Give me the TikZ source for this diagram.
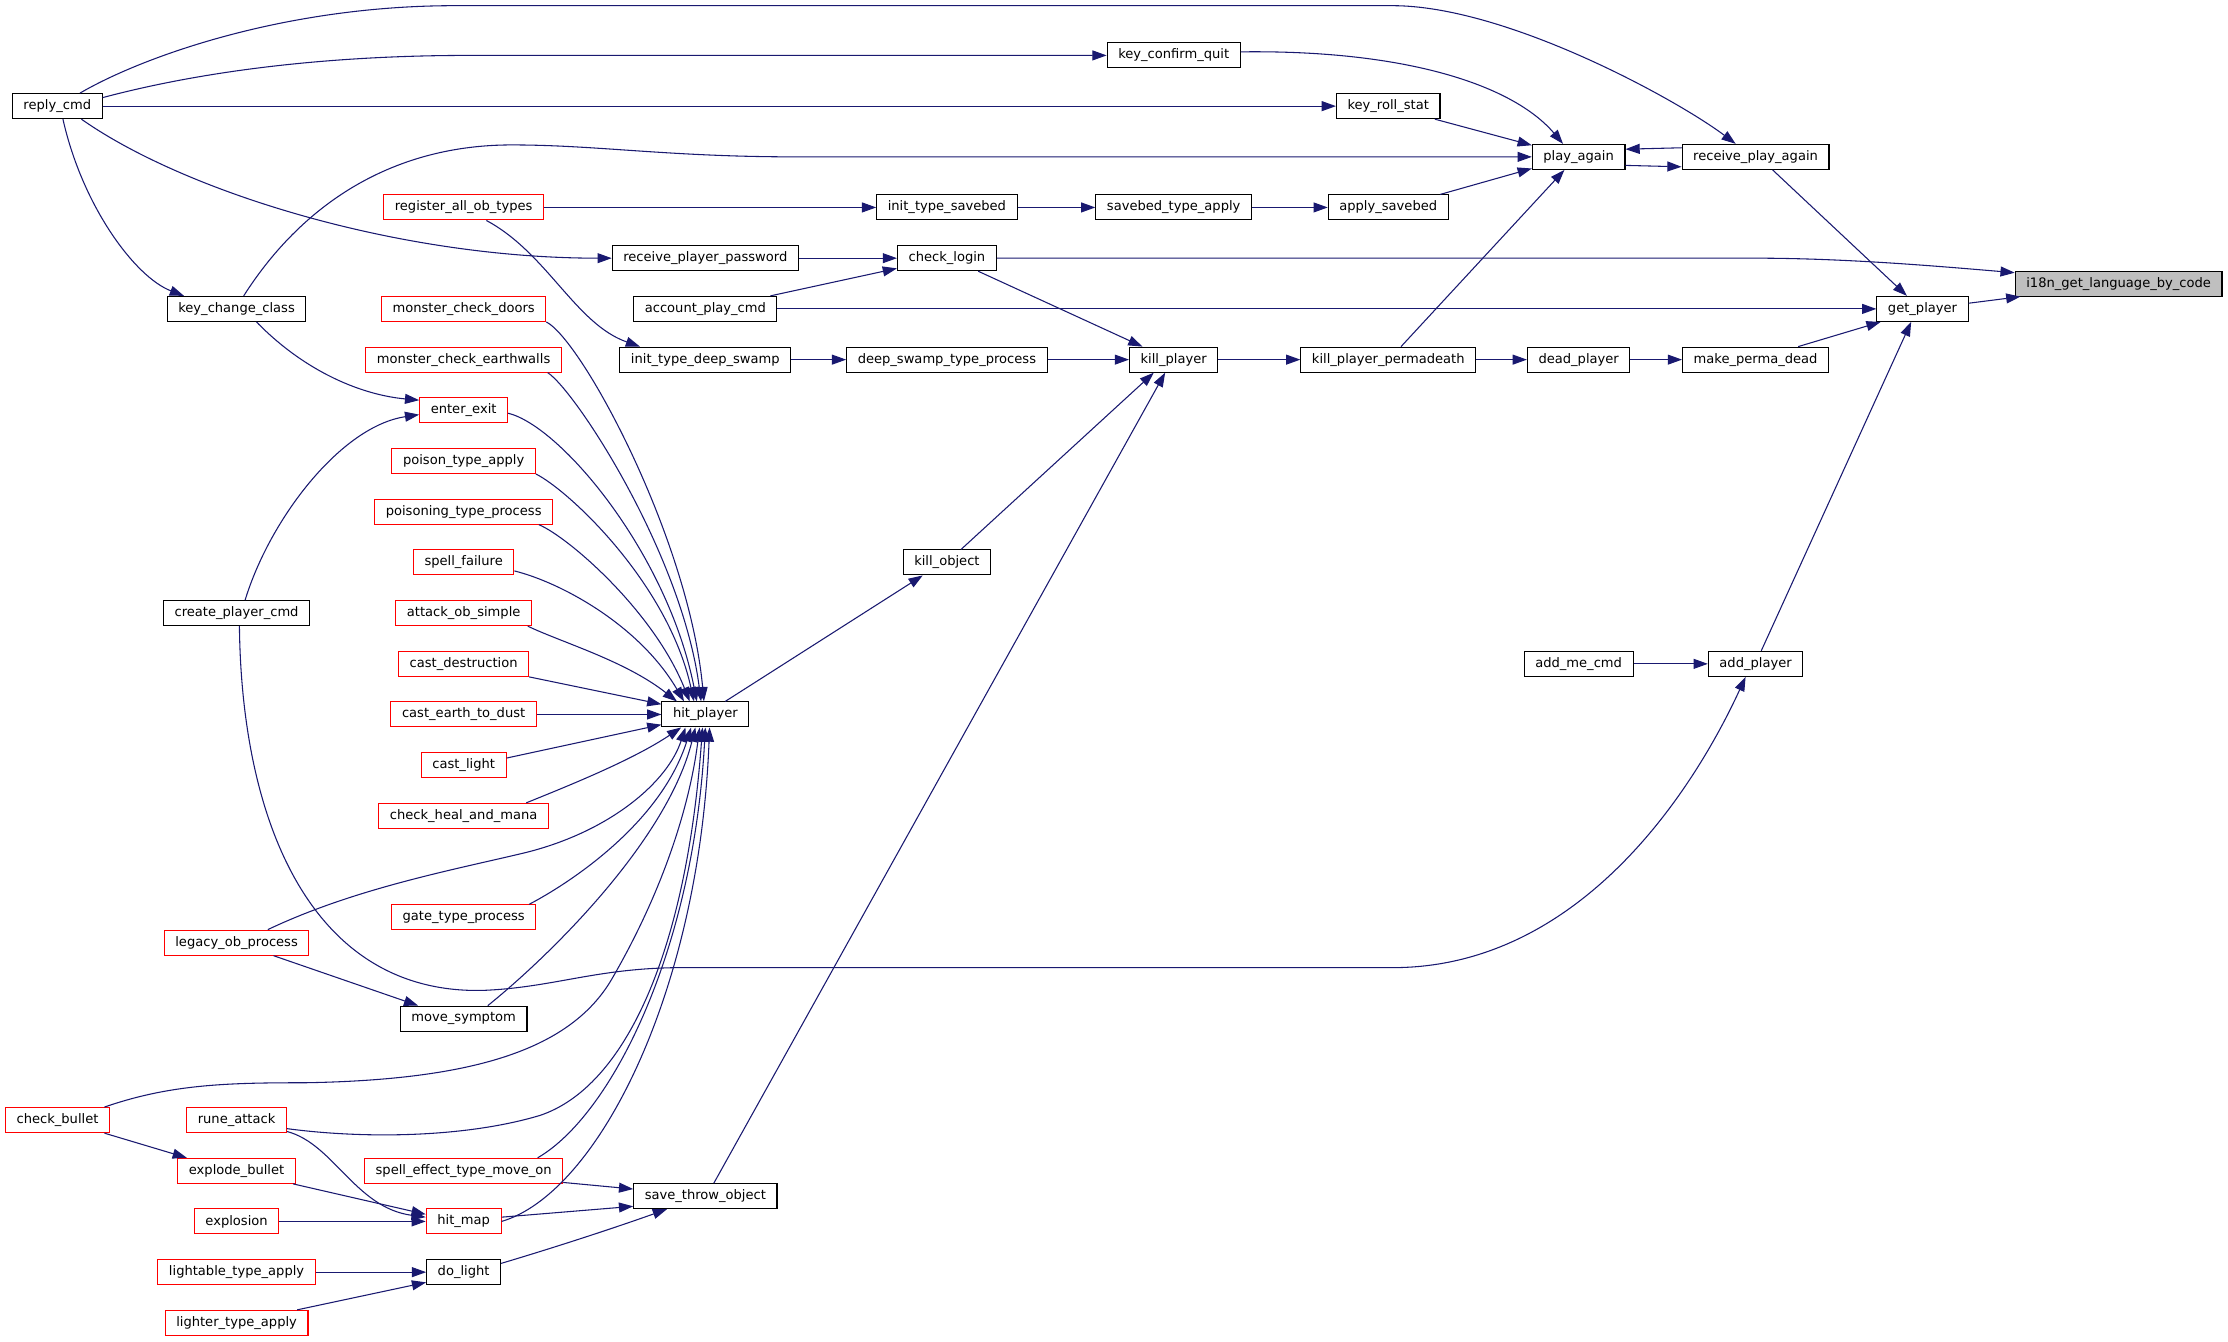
\documentclass[tikz,border=0pt]{standalone}
\usepackage{fontspec}
\setmainfont{DejaVu Sans}
\usepackage{xcolor}
\definecolor{edgeblue}{RGB}{25,25,112}
\definecolor{rootgrey}{RGB}{191,191,191}
\usepackage{tikz}
\usetikzlibrary{arrows.meta}
\tikzset{
    >={Triangle[length=10pt,width=7pt]},
    fn/.style={draw=black, rectangle, line width=0.75pt, fill=white, minimum height=17.6pt,
        inner xsep=7.8pt, inner ysep=0pt, font=\fontsize{9.2}{11}\selectfont},
    fn-red/.style={fn, draw=red},
    fn-root/.style={fn, fill=rootgrey},
    call/.style={draw=edgeblue, line width=0.75pt}
}
\begin{document}
\begin{tikzpicture}[x=1pt, y=-1pt]
      \path[use as bounding box, fill=white] (0,0) rectangle (1568,943.8);

      \node[fn] (reply-cmd) at (40.3,74.7) {reply\_cmd};
      \node[fn] (key-confirm-quit) at (826,39) {key\_confirm\_quit};
      \node[fn] (key-roll-stat) at (977,74.7) {key\_roll\_stat};
      \node[fn] (play-again) at (1111,110.4) {play\_again};
      \node[fn] (receive-play-again) at (1235.5,110.4) {receive\_play\_again};
      \node[fn-red] (register-all-ob-types) at (326.3,146) {register\_all\_ob\_types};
      \node[fn] (init-type-savebed) at (666.4,146) {init\_type\_savebed};
      \node[fn] (savebed-type-apply) at (826,146) {savebed\_type\_apply};
      \node[fn] (apply-savebed) at (977,146) {apply\_savebed};
      \node[fn] (receive-player-password) at (496.4,181.7) {receive\_player\_password};
      \node[fn] (check-login) at (666.4,181.7) {check\_login};
      \node[fn-root] (i18n) at (1491,199.6) {i18n\_get\_language\_by\_code};
      \node[fn] (key-change-class) at (166.5,217.4) {key\_change\_class};
      \node[fn-red] (monster-check-doors) at (326.3,217.4) {monster\_check\_doors};
      \node[fn] (account-play-cmd) at (496.4,217.4) {account\_play\_cmd};
      \node[fn] (get-player) at (1353,217.4) {get\_player};
      \node[fn-red] (monster-check-earthwalls) at (326.3,253.1) {monster\_check\_earthwalls};
      \node[fn] (init-type-deep-swamp) at (496.4,253.1) {init\_type\_deep\_swamp};
      \node[fn] (deep-swamp-type-process) at (666.4,253.1) {deep\_swamp\_type\_process};
      \node[fn] (kill-player) at (826,253.1) {kill\_player};
      \node[fn] (kill-player-permadeath) at (977,253.1) {kill\_player\_permadeath};
      \node[fn] (dead-player) at (1111,253.1) {dead\_player};
      \node[fn] (make-perma-dead) at (1235.5,253.1) {make\_perma\_dead};
      \node[fn-red] (enter-exit) at (326.3,288.8) {enter\_exit};
      \node[fn-red] (poison-type-apply) at (326.3,324.4) {poison\_type\_apply};
      \node[fn-red] (poisoning-type-process) at (326.3,360.1) {poisoning\_type\_process};
      \node[fn-red] (spell-failure) at (326.3,395.8) {spell\_failure};
      \node[fn] (kill-object) at (666.4,395.8) {kill\_object};
      \node[fn] (create-player-cmd) at (166.5,431.5) {create\_player\_cmd};
      \node[fn-red] (attack-ob-simple) at (326.3,431.5) {attack\_ob\_simple};
      \node[fn-red] (cast-destruction) at (326.3,467.2) {cast\_destruction};
      \node[fn] (add-me-cmd) at (1111,467.2) {add\_me\_cmd};
      \node[fn] (add-player) at (1235.5,467.2) {add\_player};
      \node[fn-red] (cast-earth-to-dust) at (326.3,502.8) {cast\_earth\_to\_dust};
      \node[fn] (hit-player) at (496.4,502.8) {hit\_player};
      \node[fn-red] (cast-light) at (326.3,538.5) {cast\_light};
      \node[fn-red] (check-heal-and-mana) at (326.3,574.2) {check\_heal\_and\_mana};
      \node[fn-red] (gate-type-process) at (326.3,645.6) {gate\_type\_process};
      \node[fn-red] (legacy-ob-process) at (166.5,663.4) {legacy\_ob\_process};
      \node[fn] (move-symptom) at (326.3,716.9) {move\_symptom};
      \node[fn-red] (check-bullet) at (40.5,788.3) {check\_bullet};
      \node[fn-red] (rune-attack) at (166.5,788.3) {rune\_attack};
      \node[fn-red] (explode-bullet) at (166.5,824) {explode\_bullet};
      \node[fn-red] (spell-effect-type-move-on) at (326.3,824) {spell\_effect\_type\_move\_on};
      \node[fn] (save-throw-object) at (496.4,841.8) {save\_throw\_object};
      \node[fn-red] (explosion) at (166.5,859.6) {explosion};
      \node[fn-red] (hit-map) at (326.3,859.6) {hit\_map};
      \node[fn-red] (lightable-type-apply) at (166.5,895.3) {lightable\_type\_apply};
      \node[fn] (do-light) at (326.3,895.3) {do\_light};
      \node[fn-red] (lighter-type-apply) at (166.5,931) {lighter\_type\_apply};

      \draw[call, ->] ([xshift=16pt]reply-cmd.north) .. controls (100,40) and (200,4) .. (320,4)
          -- (980,4) .. controls (1060,4) and (1180,70) .. ([xshift=-14pt]receive-play-again.north);
      \draw[call, ->] ([yshift=6pt]reply-cmd.east) .. controls (150,48) and (240,39) .. (330,39) -- (key-confirm-quit.west);
      \draw[call, ->] (reply-cmd.east) -- (key-roll-stat.west);
      \draw[call, ->] ([xshift=17pt]reply-cmd.south) .. controls (130,135) and (280,181.7) .. (receive-player-password.west);
      \draw[call, ->] ([xshift=4pt]reply-cmd.south) .. controls (58,145) and (95,195) .. ([xshift=-37pt]key-change-class.north);
      \draw[call, ->] ([xshift=5pt]key-change-class.north) .. controls (215,140) and (280,102) .. (360,102)
          .. controls (420,102) and (470,110.4) .. (560,110.4) -- (play-again.west);
      \draw[call, ->] ([yshift=2.5pt]key-confirm-quit.east) .. controls (990,35) and (1065,60) .. ([xshift=-11pt]play-again.north);
      \draw[call, ->] ([xshift=-4pt]key-roll-stat.south east) -- ([yshift=-1pt]play-again.north west);
      \draw[call, ->] ([xshift=-6pt]apply-savebed.north east) -- ([yshift=1pt]play-again.south west);
      \draw[call, ->] ([yshift=6.4pt]receive-play-again.west) -- ([yshift=5.4pt]play-again.east);
      \draw[call, ->] ([yshift=-6pt]play-again.east) -- ([yshift=-7pt]receive-play-again.west);
      \draw[call, ->] ([xshift=12pt]receive-play-again.south) -- ([xshift=-11pt]get-player.north);
      \draw[call, ->] ([xshift=9pt]kill-player-permadeath.north) -- ([xshift=-10pt]play-again.south);

      \draw[call, ->] (register-all-ob-types.east) -- (init-type-savebed.west);
      \draw[call, ->] (init-type-savebed.east) -- (savebed-type-apply.west);
      \draw[call, ->] (savebed-type-apply.east) -- (apply-savebed.west);
      \draw[call, ->] ([xshift=16pt]register-all-ob-types.south) .. controls (385,178) and (405,228) .. ([xshift=-46pt]init-type-deep-swamp.north);
      \draw[call, ->] (receive-player-password.east) -- (check-login.west);
      \draw[call, ->] ([xshift=-5pt]account-play-cmd.north east) -- ([yshift=2pt]check-login.south west);
      \draw[call, ->] (account-play-cmd.east) -- (get-player.west);
      \draw[call, ->] (check-login.east) -- (1240,181.7) .. controls (1300,182) and (1360,187) .. ([yshift=-1.5pt]i18n.north west);
      \draw[call, ->] ([yshift=4pt]get-player.east) -- ([xshift=4pt]i18n.south west);
      \draw[call, ->] ([xshift=30pt]make-perma-dead.north) -- ([xshift=3pt]get-player.south west);
      \draw[call, ->] ([xshift=4pt]add-player.north) -- ([xshift=-8pt]get-player.south);
      \draw[call, ->] (dead-player.east) -- (make-perma-dead.west);
      \draw[call, ->] (kill-player-permadeath.east) -- (dead-player.west);
      \draw[call, ->] (kill-player.east) -- (kill-player-permadeath.west);
      \draw[call, ->] (deep-swamp-type-process.east) -- (kill-player.west);
      \draw[call, ->] (init-type-deep-swamp.east) -- (deep-swamp-type-process.west);
      \draw[call, ->] ([xshift=22pt]check-login.south) -- ([xshift=-22pt]kill-player.north);
      \draw[call, ->] ([xshift=10pt]kill-object.north) -- ([xshift=-14pt]kill-player.south);
      \draw[call, ->] ([xshift=6pt]save-throw-object.north) -- ([xshift=-6pt]kill-player.south);
      \draw[call, ->] ([xshift=14pt]hit-player.north) -- ([xshift=-17pt]kill-object.south);

      \draw[call, ->] ([xshift=14pt]key-change-class.south) .. controls (215,262) and (255,278) .. ([yshift=-2pt]enter-exit.north west);
      \draw[call, ->] ([xshift=6pt]create-player-cmd.north) .. controls (190,365) and (240,300) .. ([yshift=-3pt]enter-exit.west);
      \draw[call, ->] ([xshift=2pt]create-player-cmd.south) .. controls (170,580) and (220,700) .. (340,697)
          .. controls (390,695) and (420,681) .. (480,681) -- (980,681)
          .. controls (1110,681) and (1190,560) .. ([xshift=-7pt]add-player.south);
      \draw[call, ->] (add-me-cmd.east) -- (add-player.west);

      \draw[call, ->] (monster-check-doors.south east) .. controls (410,240) and (485,380) .. ([xshift=-1pt]hit-player.north);
      \draw[call, ->] ([xshift=-10pt]monster-check-earthwalls.south east) .. controls (405,275) and (480,390) .. ([xshift=-3pt]hit-player.north);
      \draw[call, ->] ([yshift=-2pt]enter-exit.east) .. controls (395,300) and (470,390) .. ([xshift=-6pt]hit-player.north);
      \draw[call, ->] (poison-type-apply.south east) .. controls (400,345) and (470,410) .. ([xshift=-8pt]hit-player.north);
      \draw[call, ->] ([xshift=-10pt]poisoning-type-process.south east) .. controls (400,378) and (460,430) .. ([xshift=-11pt]hit-player.north);
      \draw[call, ->] ([yshift=-6pt]spell-failure.east) .. controls (395,410) and (450,440) .. ([xshift=-15pt]hit-player.north);
      \draw[call, ->] ([xshift=-3pt]attack-ob-simple.south east) .. controls (395,452) and (440,465) .. ([xshift=-20pt]hit-player.north);
      \draw[call, ->] (cast-destruction.south east) -- ([yshift=-2pt]hit-player.north west);
      \draw[call, ->] (cast-earth-to-dust.east) -- (hit-player.west);
      \draw[call, ->] ([yshift=5pt]cast-light.east) -- ([yshift=2pt]hit-player.south west);
      \draw[call, ->] ([xshift=-16pt]check-heal-and-mana.north east) .. controls (400,553) and (445,535) .. ([xshift=-17pt]hit-player.south);
      \draw[call, ->] ([xshift=22pt]legacy-ob-process.north) .. controls (250,625) and (320,612) .. (370,600)
          .. controls (430,585) and (470,550) .. ([xshift=-14pt]hit-player.south);
      \draw[call, ->] ([xshift=-5pt]gate-type-process.north east) .. controls (400,622) and (465,580) .. ([xshift=-10pt]hit-player.south);
      \draw[call, ->] ([xshift=17pt]move-symptom.north) .. controls (390,670) and (470,590) .. ([xshift=-7pt]hit-player.south);
      \draw[call, ->] ([xshift=33pt]check-bullet.north) .. controls (120,763) and (160,762) .. (215,762)
          .. controls (330,760) and (400,740) .. (430,690) .. controls (465,630) and (485,570) .. ([xshift=-4pt]hit-player.south);
      \draw[call, ->] ([yshift=-6pt]rune-attack.east) .. controls (260,802) and (330,800) .. (380,785)
          .. controls (440,765) and (483,670) .. ([xshift=-2pt]hit-player.south);
      \draw[call, ->] ([xshift=-18pt]spell-effect-type-move-on.north east) .. controls (430,785) and (488,670) .. (hit-player.south);
      \draw[call, ->] (hit-map.east) .. controls (420,840) and (492,700) .. ([xshift=3pt]hit-player.south);

      \draw[call, ->] ([xshift=26pt]legacy-ob-process.south) -- ([xshift=-32pt]move-symptom.north);
      \draw[call, ->] ([xshift=33pt]check-bullet.south) -- ([xshift=-35pt]explode-bullet.north);
      \draw[call, ->] ([xshift=-2pt]explode-bullet.south east) -- ([yshift=5pt]hit-map.west);
      \draw[call, ->] ([yshift=-8pt]rune-attack.east) .. controls (235,805) and (250,850) .. ([yshift=3pt]hit-map.west);
      \draw[call, ->] (explosion.east) -- (hit-map.west);
      \draw[call, ->] ([yshift=3pt]hit-map.east) -- ([yshift=2pt]save-throw-object.south west);
      \draw[call, ->] ([yshift=1pt]spell-effect-type-move-on.south east) -- ([yshift=5pt]save-throw-object.west);
      \draw[call, ->] ([yshift=-3pt]do-light.north east) .. controls (390,878) and (430,865) .. ([xshift=-27pt]save-throw-object.south);
      \draw[call, ->] (lightable-type-apply.east) -- (do-light.west);
      \draw[call, ->] ([xshift=-8pt]lighter-type-apply.north east) -- ([yshift=2pt]do-light.south west);
\end{tikzpicture}
\end{document}
